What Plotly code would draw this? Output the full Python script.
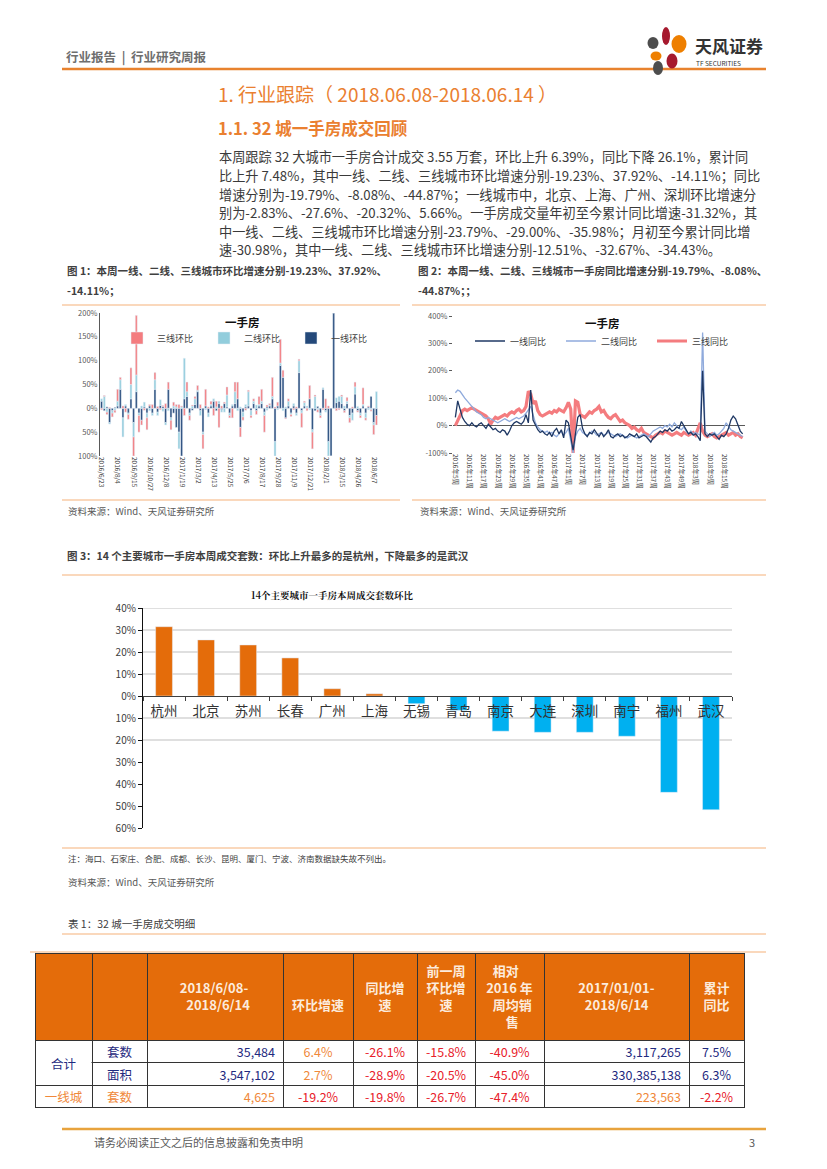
import plotly.graph_objects as go

# page is 827x1169; the html body adds an 8px margin, so the figure is drawn 8px smaller
OFF = 8
W, H = 827 - OFF, 1169 - OFF
def fx(x): return (x - OFF) / W
def fy(y): return 1 - (y - OFF) / H

# ---------------- data ----------------
# Figure 1: weekly ring-ratio change (%), stacked by city tier
fig1_tier1 = [15, -5, 3, -30, -5, 2, 5, 40, -20, 5, -10, 20, -30, 35, -10, -25, 3, -10, 5, -10,
              40, -8, 6, 4, -30, 40, -20, -10, -40, -50, -100, 20, 25, -10, -4, 8, 35, -5, -50, 5,
              -10, 5, 15, -5, 10, -3, 10, 3, -10, 5, 10, 20, -40, -8, 3, 5, -5, 10, -5, 5,
              10, -8, 3, 5, 20, -70, 5, 90, 65, -20, 5, -10, 5, -10, 75, -5, 5, 2, 20, -45,
              -5, 4, -10, 40, -5, -70, -100, 200, 12, 15, 10, -5, 10, -15, -10, 30, -5, -10, 5, -10,
              3, 25, -30, -15]
fig1_tier2 = [5, 25, -8, -3, -5, -4, 10, 20, -40, 3, -3, 30, -30, 35, -5, 5, 10, -10, -5, -5,
              20, -7, 12, -6, -5, -5, -5, 5, 3, -35, 3, 85, 10, -5, 5, 12, 3, -10, -5, -3,
              -8, 3, 5, 3, 5, -5, -8, 25, -5, 3, 25, -5, 3, -10, 5, 30, -10, 5, 7, 3,
              5, -7, -4, 2, 5, -30, -3, 5, -5, 3, 10, -3, 5, -5, 25, -5, 7, 3, -3, -5,
              25, -3, -5, 3, -3, -30, -5, 3, 10, 10, 15, 5, 5, -5, -15, 15, 4, -5, 3, -10,
              -3, -3, -5, 35]
fig1_tier3 = [-3, 2, -5, 2, -8, -5, 25, 5, 5, -8, -10, 35, -40, 125, -35, -10, -4, -25, 3, 8,
              15, 4, -3, 2, 10, 15, -20, 8, 5, 8, 2, -15, 20, -10, 2, 5, 10, 8, -30, 35,
              3, 7, -15, 12, -40, 5, 3, 17, -5, -20, 20, 35, -20, -7, -4, 3, -5, 5, -8, 17,
              25, -35, 4, 3, 40, 3, 8, 50, 15, -2, 5, -4, -3, 3, 3, -30, 3, -5, 28, -35,
              3, -5, -5, -3, 20, 5, -5, 5, -5, -3, 3, -4, 8, -10, 3, 10, -3, -5, 35, -5,
              2, -3, -20, -20]
fig1_ticklabels = ["2016/6/23", "2016/8/4", "2016/9/15", "2016/10/27", "2016/12/8", "2017/1/19",
                   "2017/3/2", "2017/4/13", "2017/5/25", "2017/7/6", "2017/8/17", "2017/9/28",
                   "2017/11/9", "2017/12/21", "2018/2/1", "2018/3/15", "2018/4/26", "2018/6/7"]

# Figure 2: weekly year-on-year change (%), by city tier
fig2_tier1 = [30, 90, 60, 30, 15, 5, 0, 10, 0, -5, 5, 10, 0, -10, 5, -5, -15, -10, -20, -25,
              -15, -20, -35, -20, 0, 10, 15, 10, 5, 15, 40, 10, 130, 20, 0, -15, -25, -20, -30, -35,
              -25, -40, -20, -10, -30, -15, -45, 20, 10, -40, -90, -30, 30, 40, -10, -30, -40, -25, -30, -15,
              -30, -40, -25, -40, -30, -15, -40, -45, -35, -30, -40, -35, -45, -40, -30, -35, -40, -30, -45, -40,
              -35, -40, -50, -60, -45, -40, -30, -20, -25, -15, -20, -10, -20, -15, -5, -10, 15, 0, -20, -30,
              -25, -35, -30, -40, -55, 200, -30, -40, -30, -35, -30, -40, -50, -35, -40, -30, -10, 20, 35, 25,
              0, -20, -30]
fig2_tier2 = [120, 130, 125, 110, 100, 90, 80, 70, 60, 50, 45, 40, 30, 25, 30, 25, 20, 15, 10, 15,
              20, 25, 20, 15, 20, 25, 30, 25, 30, 35, 45, 60, 70, 40, 10, -5, -15, -20, -25, -20,
              -30, -25, -35, -40, -30, -20, -35, -25, -10, -50, -100, -40, -20, -10, -25, -30, -35, -30, -20, -25,
              -35, -30, -25, -35, -30, -25, -30, -35, -40, -35, -30, -35, -40, -45, -40, -35, -40, -45, -40, -35,
              -30, -35, -40, -30, -20, -15, -10, -5, -10, 0, -5, 5, -5, 10, 0, -10, -15, -5, -20, -30,
              -20, -30, -25, -30, -35, 340, -20, -30, -40, -30, -25, -35, -30, -20, -10, 10, -5, -15, -20, -25,
              -30, -35, -40]
fig2_tier3 = [0, 20, 40, 55, 60, 55, 60, 65, 60, 55, 50, 45, 40, 35, 25, 5, 20, 30, 25, 30,
              35, 40, 35, 45, 50, 45, 55, 60, 50, 55, 70, 125, 115, 80, 90, 55, 40, 35, 40, 45,
              50, 45, 55, 50, 60, 55, 50, 65, 85, 60, -100, 90, 85, 40, 35, 30, 40, 50, 45, 55,
              60, 70, 50, 55, 40, 30, 25, 35, 40, 25, 15, 20, 10, 5, 0, -10, -5, -15, -20, -10,
              -25, -30, -35, -40, -45, -35, -30, -25, -30, -20, -25, -30, -35, -30, -25, -30, -35, -25, -30, -35,
              -30, -25, -35, -10, 10, -20, -35, -40, -35, -30, -40, -45, -40, -35, -30, -25, -35, -30, -25, -35,
              -30, -40, -45]
fig2_ticklabels = ["2016年5周", "2016年11周", "2016年17周", "2016年23周", "2016年29周", "2016年35周",
                   "2016年41周", "2016年47周", "2017年1周", "2017年7周", "2017年13周", "2017年19周",
                   "2017年25周", "2017年31周", "2017年37周", "2017年43周", "2017年49周", "2018年3周",
                   "2018年9周", "2018年15周"]

# Figure 3: 14 major cities, weekly ring-ratio change of units sold
cities = ["杭州", "北京", "苏州", "长春", "广州", "上海", "无锡", "青岛", "南京", "大连", "深圳", "南宁", "福州", "武汉"]
city_change = [0.315, 0.255, 0.232, 0.173, 0.033, 0.010, -0.035, -0.065, -0.160, -0.165, -0.165, -0.183, -0.438, -0.517]
fig3_tickvals = [-0.6, -0.5, -0.4, -0.3, -0.2, -0.1, 0.0, 0.1, 0.2, 0.3, 0.4]
fig3_ticktext = ["60%", "50%", "40%", "30%", "20%", "10%", "0%", "10%", "20%", "30%", "40%"]

# Table 1
NB = "\u00a0"
IS = "\u3000"
EN = "\u2002"
tbl_header = ["", "", NB + "<br>2018/6/08-<br>" + EN + "2018/6/14", NB + "<br>" + NB + "<br>环比增速",
              NB + "<br>同比增<br>" + IS + "速", "前一周<br>环比增<br>" + IS + "速",
              EN + "相对<br>2016 年<br>" + EN + "周均销<br>" + EN + IS + "售",
              NB + "<br>2017/01/01-<br>" + EN + "2018/6/14", NB + "<br>累计<br>同比"]
tbl_col0 = ["", "", "一线城"]
tbl_col1 = ["套数", "面积", "套数"]
tbl_week = ["35,484", "3,547,102", "4,625"]
tbl_wow = ["6.4%", "2.7%", "-19.2%"]
tbl_yoy = ["-26.1%", "-28.9%", "-19.8%"]
tbl_prev = ["-15.8%", "-20.5%", "-26.7%"]
tbl_vs2016 = ["-40.9%", "-45.0%", "-47.4%"]
tbl_cum = ["3,117,265", "330,385,138", "223,563"]
tbl_cumyoy = ["7.5%", "6.3%", "-2.2%"]

paragraph = [
    "本周跟踪 32 大城市一手房合计成交 3.55 万套，环比上升 6.39%，同比下降 26.1%，累计同",
    "比上升 7.48%，其中一线、二线、三线城市环比增速分别-19.23%、37.92%、-14.11%；同比",
    "增速分别为-19.79%、-8.08%、-44.87%；一线城市中，北京、上海、广州、深圳环比增速分",
    "别为-2.83%、-27.6%、-20.32%、5.66%。一手房成交量年初至今累计同比增速-31.32%，其",
    "中一线、二线、三线城市环比增速分别-23.79%、-29.00%、-35.98%；月初至今累计同比增",
    "速-30.98%，其中一线、二线、三线城市环比增速分别-12.51%、-32.67%、-34.43%。",
]

FONT = "Noto Sans CJK SC"
ORANGE = "#E46C0A"
NAVY = "#1F2A80"
RED = "#E8202A"
LORANGE = "#F0883A"

fig = go.Figure()

# ---------- Figure 1 ----------
x1 = list(range(len(fig1_tier1)))
fig.add_trace(go.Bar(x=x1, y=fig1_tier1, name="一线环比", marker_color="#24497A", width=0.72,
                     xaxis="x", yaxis="y", legend="legend", legendrank=3))
fig.add_trace(go.Bar(x=x1, y=fig1_tier2, name="二线环比", marker_color="#92CDDC", width=0.72,
                     xaxis="x", yaxis="y", legend="legend", legendrank=2))
fig.add_trace(go.Bar(x=x1, y=fig1_tier3, name="三线环比", marker_color="#F47C7F", width=0.72,
                     xaxis="x", yaxis="y", legend="legend", legendrank=1))

# ---------- Figure 2 ----------
x2 = list(range(len(fig2_tier1)))
fig.add_trace(go.Scatter(x=x2, y=fig2_tier3, name="三线同比", mode="lines",
                         line=dict(color="#F47C7F", width=3.2), xaxis="x2", yaxis="y2",
                         legend="legend2", legendrank=3))
fig.add_trace(go.Scatter(x=x2, y=fig2_tier2, name="二线同比", mode="lines",
                         line=dict(color="#8FAADC", width=1.3), xaxis="x2", yaxis="y2",
                         legend="legend2", legendrank=2))
fig.add_trace(go.Scatter(x=x2, y=fig2_tier1, name="一线同比", mode="lines",
                         line=dict(color="#1F3864", width=1.3), xaxis="x2", yaxis="y2",
                         legend="legend2", legendrank=1))

# ---------- Figure 3 ----------
bar_colors = [ORANGE if v >= 0 else "#00B0F0" for v in city_change]
fig.add_trace(go.Bar(x=cities, y=city_change, marker_color=bar_colors, width=0.4,
                     xaxis="x3", yaxis="y3", showlegend=False))

# ---------- Table ----------
navy3 = [NAVY, NAVY, LORANGE]
fig.add_trace(go.Table(
    domain=dict(x=[fx(35), fx(744)], y=[fy(1108), fy(953)]),
    columnwidth=[57, 55, 136, 70, 64, 58, 69, 145, 55],
    header=dict(values=["<b>%s</b>" % h if h else "" for h in tbl_header], fill_color=ORANGE, height=87,
                line=dict(color="#333333", width=1), align="center",
                font=dict(family=FONT, size=13, color="#FCEBDD")),
    cells=dict(values=[tbl_col0, tbl_col1, tbl_week, tbl_wow, tbl_yoy, tbl_prev, tbl_vs2016, tbl_cum, tbl_cumyoy],
               fill_color="white", height=22.5, line=dict(color="#333333", width=1),
               align=["center", "center", "right", "center", "center", "center", "center", "right", "center"],
               font=dict(family=FONT, size=12.5,
                         color=[navy3, navy3, navy3,
                                [LORANGE, LORANGE, RED], [RED, RED, RED], [RED, RED, RED],
                                [RED, RED, RED], navy3, [NAVY, NAVY, RED]])),
))

# ---------- shapes ----------
shapes = []
def hline(x0, x1_, y, color, width):
    shapes.append(dict(type="line", xref="paper", yref="paper", x0=fx(x0), x1=fx(x1_),
                       y0=fy(y), y1=fy(y), line=dict(color=color, width=width)))

hline(62, 766, 69, "#E8822E", 2.5)
hline(62, 400, 305, "#F5B27A", 1.2)
hline(412, 766, 305, "#F5B27A", 1.2)
hline(62, 400, 500, "#F5B27A", 1.2)
hline(412, 766, 500, "#F5B27A", 1.2)
hline(62, 766, 575, "#F5B27A", 1.2)
hline(62, 766, 848, "#F5B27A", 1.2)
hline(62, 766, 934, "#F5B27A", 1.2)
hline(30, 766, 952, "#F5B27A", 1.2)
hline(62, 766, 1129, "#E8A33D", 2.5)

# fig 3 gridlines
for v in [0.4, 0.3, 0.2, 0.1, -0.1, -0.2]:
    shapes.append(dict(type="line", xref="x3 domain", yref="y3", x0=0, x1=1, y0=v, y1=v,
                       line=dict(color="#BFBFBF", width=1), layer="below"))

# merged cell cover for 合计
shapes.append(dict(type="rect", xref="paper", yref="paper", x0=fx(36), x1=fx(91.5),
                   y0=fy(1065.5), y1=fy(1060.5), fillcolor="white", line=dict(width=0), layer="above"))

# logo petals
def petal(cx, cy, w, h, color):
    shapes.append(dict(type="circle", xref="paper", yref="paper", x0=fx(cx - w / 2), x1=fx(cx + w / 2),
                       y0=fy(cy + h / 2), y1=fy(cy - h / 2), fillcolor=color, line=dict(width=0)))
petal(666, 36, 8, 18, "#A6192E")
petal(679, 44, 15, 18, "#EE7F00")
petal(653, 43, 11, 12, "#4D4D4D")
petal(656, 56, 11, 9, "#EE7F00")
petal(672, 61, 11, 15, "#A6192E")
petal(658, 68, 10, 14, "#4D4D4D")

# ---------- annotations ----------
ann = []
def text(x, y, s, size, color="#404040", bold=False, anchor="left", family=FONT):
    ann.append(dict(x=fx(x), y=fy(y), xref="paper", yref="paper", text=("<b>%s</b>" % s) if bold else s,
                    showarrow=False, xanchor=anchor, yanchor="middle",
                    font=dict(family=family, size=size, color=color)))

text(64, 57, "行业报告" + NB + " | " + NB + "行业研究周报", 12.5, "#6E6E6E", True)
text(693, 46, "天风证券", 17, "#333333", True)
text(694, 63, "TF SECURITIES", 6.5, "#333333")
text(216, 93, "1. 行业跟踪（ 2018.06.08-2018.06.14 ）", 19, "#EA8030")
text(216, 128, "1.1. 32 城一手房成交回顾", 16.5, "#EA8030", True)
for i, line in enumerate(paragraph):
    text(217, 157 + i * 18.5, line, 13.2, "#3A3A3A")

text(65, 270, "图 1：本周一线、二线、三线城市环比增速分别-19.23%、37.92%、", 10.5, "#404040", True)
text(65, 290, "-14.11%；", 10.5, "#404040", True)
text(416, 270, "图 2：本周一线、二线、三线城市一手房同比增速分别-19.79%、-8.08%、", 10.5, "#404040", True)
text(416, 290, "-44.87%；；", 10.5, "#404040", True)
text(242, 322, "一手房", 11.5, "#111111", True, "center")
text(602, 323, "一手房", 11.5, "#111111", True, "center")
text(66, 511, "资料来源：Wind、天风证券研究所", 9.5, "#595959")
text(418, 511, "资料来源：Wind、天风证券研究所", 9.5, "#595959")

text(65, 555, "图 3：14 个主要城市一手房本周成交套数：环比上升最多的是杭州，下降最多的是武汉", 10.5, "#404040", True)
text(332, 595, "14个主要城市一手房本周成交套数环比", 9.5, "#111111", True, "center", "Noto Serif CJK SC, Noto Sans CJK SC")
text(66, 858, "注：海口、石家庄、合肥、成都、长沙、昆明、厦门、宁波、济南数据缺失故不列出。", 8.5, "#404040")
text(66, 882, "资料来源：Wind、天风证券研究所", 9.5, "#595959")
text(66, 923, "表 1：32 城一手房成交明细", 10.5, "#404040")
text(63.5, 1063, "合计", 12.5, NAVY, False, "center")

text(92, 1142, "请务必阅读正文之后的信息披露和免责申明", 11, "#595959")
text(757, 1142, "3", 11, "#595959", False, "right")

# ---------- layout ----------
fig.update_layout(
    width=W, height=H, margin=dict(l=0, r=0, t=0, b=0, autoexpand=False),
    paper_bgcolor="white", plot_bgcolor="white",
    barmode="relative",
    font=dict(family=FONT, color="#404040"),
    shapes=shapes, annotations=ann,
    xaxis=dict(domain=[fx(100), fx(378)], anchor="y", range=[-0.6, len(fig1_tier1) - 0.4],
               tickmode="array", tickvals=list(range(0, len(fig1_tier1), 6)), ticktext=fig1_ticklabels,
               tickangle=90, tickfont=dict(size=6.5, color="#404040"), showgrid=False, zeroline=False,
               showline=False, ticks=""),
    yaxis=dict(domain=[fy(456), fy(313)], anchor="x", range=[-100, 200],
               tickmode="array", tickvals=[-100, -50, 0, 50, 100, 150, 200],
               ticktext=["100%", "50%", "0%", "50%", "100%", "150%", "200%"],
               tickfont=dict(size=7.5, color="#595959"), showgrid=False, zeroline=False,
               showline=True, linecolor="#595959", linewidth=1, ticks=""),
    xaxis2=dict(domain=[fx(453), fx(745)], anchor="y2", range=[-1, len(fig2_tier1)],
                tickmode="array", tickvals=list(range(0, 120, 6)), ticktext=fig2_ticklabels,
                tickangle=90, tickfont=dict(size=6.5, color="#404040"), showgrid=False, zeroline=False,
                showline=False, ticks=""),
    yaxis2=dict(domain=[fy(453), fy(316)], anchor="x2", range=[-100, 400],
                tickmode="array", tickvals=[-100, 0, 100, 200, 300, 400],
                ticktext=["-100%", "0%", "100%", "200%", "300%", "400%"],
                tickfont=dict(size=7.5, color="#595959"), showgrid=False, zeroline=True,
                zerolinecolor="#595959", zerolinewidth=1, showline=False,
                ticks="outside", ticklen=3, tickcolor="#595959"),
    xaxis3=dict(domain=[fx(143), fx(732)], anchor="free", position=fy(696), type="category",
                range=[-0.5, len(cities) - 0.5], showline=True, linecolor="#404040", linewidth=1,
                ticks="outside", tickson="boundaries", ticklen=4, tickcolor="#404040",
                ticklabelstandoff=3,
                tickfont=dict(size=13.5, color="#333333"), showgrid=False, zeroline=False),
    yaxis3=dict(domain=[fy(828), fy(608)], anchor="x3", range=[-0.6, 0.4],
                tickmode="array", tickvals=fig3_tickvals, ticktext=fig3_ticktext,
                tickfont=dict(size=10, color="#404040"), showgrid=False, zeroline=False,
                showline=True, linecolor="#111111", linewidth=1.2,
                ticks="outside", ticklen=4, tickcolor="#111111"),
    legend=dict(orientation="h", x=fx(117), y=fy(338), xanchor="left", yanchor="middle",
                entrywidth=42, entrywidthmode="pixels", bgcolor="rgba(0,0,0,0)",
                font=dict(size=9, color="#404040"), itemwidth=30, tracegroupgap=0),
    legend2=dict(orientation="h", x=fx(470), y=fy(341), xanchor="left", yanchor="middle",
                 entrywidth=46, entrywidthmode="pixels", bgcolor="rgba(0,0,0,0)",
                 font=dict(size=9, color="#404040"), itemwidth=30, tracegroupgap=0),
)

fig.write_html("out.html")
